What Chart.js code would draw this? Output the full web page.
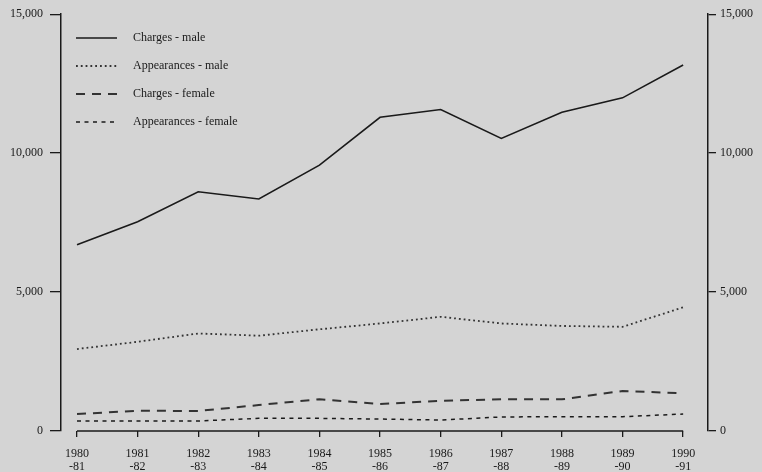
<!DOCTYPE html>
<html>
<head>
<meta charset="utf-8">
<script src="https://cdn.jsdelivr.net/npm/chart.js@4.4.0/dist/chart.umd.min.js"></script>
<style>
  html, body { margin: 0; padding: 0; background: #d4d4d4; }
  #chart { display: block; }
</style>
</head>
<body>
<canvas id="chart" width="762" height="472"></canvas>
<script>
// periods (two-line labels) and the four series
const periodStart = ['1980', '1981', '1982', '1983', '1984', '1985', '1986', '1987', '1988', '1989', '1990'];
const periodEnd = ['-81', '-82', '-83', '-84', '-85', '-86', '-87', '-88', '-89', '-90', '-91'];

const chargesMale = [6700, 7530, 8610, 8350, 9570, 11290, 11570, 10530, 11470, 11990, 13170];
const appearancesMale = [2950, 3210, 3510, 3430, 3660, 3870, 4110, 3870, 3780, 3750, 4450];
const chargesFemale = [610, 730, 720, 935, 1140, 970, 1090, 1140, 1140, 1440, 1355];
const appearancesFemale = [360, 360, 360, 455, 455, 430, 395, 505, 515, 515, 610];

const yTicks = [0, 5000, 10000, 15000];

const ink = '#1a1a1a';
const serif = "'Liberation Serif', 'DejaVu Serif', serif";

function points(arr) {
    return arr.map((v, i) => ({ x: i, y: v }));
}

const bgPlugin = {
    id: 'bg',
    beforeDraw(chart) {
        const ctx = chart.ctx;
        ctx.save();
        ctx.fillStyle = '#d4d4d4';
        ctx.fillRect(0, 0, chart.width, chart.height);
        ctx.restore();
    }
};

// x axis line only runs from the first to the last period
const xLinePlugin = {
    id: 'xline',
    afterDraw(chart) {
        const x = chart.scales.x, y = chart.scales.y;
        const ctx = chart.ctx;
        const yy = y.getPixelForValue(0);
        ctx.save();
        ctx.strokeStyle = ink;
        ctx.lineWidth = 1.5;
        ctx.beginPath();
        ctx.moveTo(x.getPixelForValue(0), yy);
        ctx.lineTo(x.getPixelForValue(periodStart.length - 1), yy);
        ctx.stroke();
        ctx.restore();
    }
};

// legend drawn inside the plot, top left
const legendPlugin = {
    id: 'innerLegend',
    afterDraw(chart) {
        const ctx = chart.ctx;
        ctx.save();
        ctx.font = '12px ' + serif;
        ctx.textBaseline = 'middle';
        chart.data.datasets.forEach((ds, i) => {
            const yy = 38 + i * 28;
            ctx.strokeStyle = ds.borderColor;
            ctx.lineWidth = ds.borderWidth;
            ctx.setLineDash(ds.borderDash || []);
            ctx.beginPath();
            ctx.moveTo(76, yy);
            ctx.lineTo(117, yy);
            ctx.stroke();
            ctx.setLineDash([]);
            ctx.fillStyle = ink;
            ctx.fillText(ds.label, 133, yy);
        });
        ctx.restore();
    }
};

const yAxis = (pos, width, tickLen, pad) => ({
    position: pos,
    min: 0,
    max: 15000,
    afterBuildTicks: (scale) => { scale.ticks = yTicks.map(v => ({ value: v })); },
    afterFit: (scale) => { scale.width = width; },
    grid: { drawOnChartArea: false, drawTicks: true, tickLength: tickLen, color: ink, lineWidth: 1.3 },
    border: { display: true, color: ink, width: 1.5 },
    ticks: {
        padding: pad,
        color: ink,
        font: { family: serif, size: 12 },
        callback: (v) => v.toLocaleString('en-US')
    }
});

new Chart(document.getElementById('chart'), {
    type: 'line',
    data: {
        datasets: [
            { label: 'Charges - male', data: points(chargesMale), borderColor: ink, borderWidth: 1.6, borderDash: [] },
            { label: 'Appearances - male', data: points(appearancesMale), borderColor: '#333333', borderWidth: 1.8, borderDash: [1.8, 3] },
            { label: 'Charges - female', data: points(chargesFemale), borderColor: '#333333', borderWidth: 2, borderDash: [9, 7] },
            { label: 'Appearances - female', data: points(appearancesFemale), borderColor: ink, borderWidth: 1.5, borderDash: [4, 4.5] }
        ]
    },
    options: {
        responsive: false,
        animation: false,
        layout: { padding: { top: 14, left: 0, right: 0, bottom: 0 } },
        elements: { point: { radius: 0 }, line: { tension: 0, fill: false } },
        plugins: { legend: { display: false }, tooltip: { enabled: false } },
        scales: {
            x: {
                type: 'linear',
                min: -0.264,
                max: 10.41,
                afterBuildTicks: (scale) => { scale.ticks = periodStart.map((_, i) => ({ value: i })); },
                afterFit: (scale) => { scale.height = 41; },
                grid: { drawOnChartArea: false, drawTicks: true, tickLength: 6, color: ink, lineWidth: 1.3 },
                border: { display: false },
                ticks: {
                    autoSkip: false,
                    maxRotation: 0,
                    padding: 10,
                    color: ink,
                    font: { family: serif, size: 12, lineHeight: 1.1 },
                    callback: (v) => [periodStart[v], periodEnd[v]]
                }
            },
            y: yAxis('left', 61, 11, 7),
            y2: yAxis('right', 54, 8, 4)
        }
    },
    plugins: [bgPlugin, xLinePlugin, legendPlugin]
});
</script>
</body>
</html>
